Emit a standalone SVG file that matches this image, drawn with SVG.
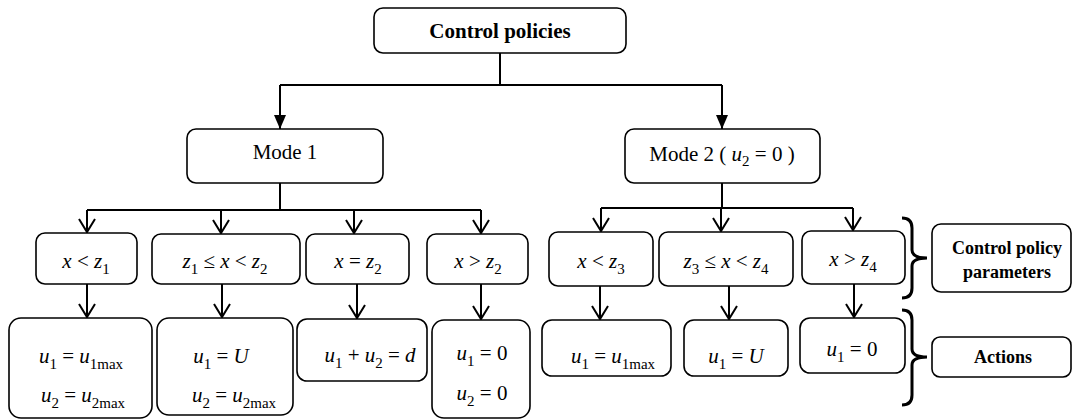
<svg xmlns="http://www.w3.org/2000/svg" width="1073" height="420" viewBox="0 0 1073 420">
<style>
.box{fill:#fff;stroke:#000;stroke-width:1.6}
.ln{fill:none;stroke:#000;stroke-width:2}
.br{fill:none;stroke:#000;stroke-width:3}
text{fill:#000;text-anchor:middle}
.t{font-size:21px}
.b{font-weight:bold;font-size:21px}
.bs{font-weight:bold;font-size:18px}
.m{font-size:21px}
.i{font-style:italic}
.s{font-size:15px}
</style>
<defs>
<marker id="fa" viewBox="0 -6 14 12" refX="14" refY="0" markerWidth="14" markerHeight="12" markerUnits="userSpaceOnUse" orient="auto"><path d="M0,-6 L14,0 L0,6 z" fill="#000"/></marker>
<marker id="va" viewBox="0 -9 15 18" refX="13" refY="0" markerWidth="15" markerHeight="18" markerUnits="userSpaceOnUse" orient="auto" overflow="visible"><path d="M0,-8 L13,0 L0,8" fill="none" stroke="#000" stroke-width="2"/></marker>
</defs>

<g id="connectors">
<path class="ln" d="M500,53 V85 M280,85 H722"/>
<path class="ln" d="M280,85 V129" marker-end="url(#fa)"/>
<path class="ln" d="M722,85 V129" marker-end="url(#fa)"/>
<path class="ln" d="M280,183 V210 M87,210 H481"/>
<path class="ln" d="M87,210 V232" marker-end="url(#va)"/>
<path class="ln" d="M221,210 V233" marker-end="url(#va)"/>
<path class="ln" d="M354,210 V233" marker-end="url(#va)"/>
<path class="ln" d="M481,210 V233" marker-end="url(#va)"/>
<path class="ln" d="M722,183 V208 M601,208 H853"/>
<path class="ln" d="M601,208 V231" marker-end="url(#va)"/>
<path class="ln" d="M721,208 V231" marker-end="url(#va)"/>
<path class="ln" d="M853,208 V230" marker-end="url(#va)"/>
<path class="ln" d="M87,284 V317" marker-end="url(#va)"/>
<path class="ln" d="M222,284 V317" marker-end="url(#va)"/>
<path class="ln" d="M357,284 V318" marker-end="url(#va)"/>
<path class="ln" d="M481,284 V319" marker-end="url(#va)"/>
<path class="ln" d="M600,286 V319" marker-end="url(#va)"/>
<path class="ln" d="M729,286 V319" marker-end="url(#va)"/>
<path class="ln" d="M854,284 V317" marker-end="url(#va)"/>
</g>

<g font-family="Liberation Serif, Times New Roman, serif">
<g id="control-policies">
<rect class="box" x="374" y="8" width="252" height="45" rx="9"/>
<text class="b" x="500" y="38">Control policies</text>
</g>

<g id="mode1">
<rect class="box" x="187" y="129" width="196" height="54" rx="9"/>
<text class="t" x="285" y="159">Mode 1</text>
</g>

<g id="mode2">
<rect class="box" x="625" y="129" width="195" height="54" rx="9"/>
<text class="t" x="722" y="161">Mode 2 ( <tspan class="i">u</tspan><tspan class="s" dy="5">2</tspan><tspan dy="-5"> = 0 )</tspan></text>
</g>

<g id="p1">
<rect class="box" x="36" y="233" width="101" height="51" rx="9"/>
<text class="m" x="86" y="268"><tspan class="i">x</tspan> &lt; <tspan class="i">z</tspan><tspan class="s" dy="6">1</tspan></text>
</g>
<g id="p2">
<rect class="box" x="152" y="234" width="148" height="50" rx="9"/>
<text class="m" x="225" y="268"><tspan class="i">z</tspan><tspan class="s" dy="6">1</tspan><tspan dy="-6"> ≤ </tspan><tspan class="i">x</tspan> &lt; <tspan class="i">z</tspan><tspan class="s" dy="6">2</tspan></text>
</g>
<g id="p3">
<rect class="box" x="306" y="234" width="103" height="50" rx="9"/>
<text class="m" x="358" y="268"><tspan class="i">x</tspan> = <tspan class="i">z</tspan><tspan class="s" dy="6">2</tspan></text>
</g>
<g id="p4">
<rect class="box" x="427" y="234" width="101" height="50" rx="9"/>
<text class="m" x="478" y="268"><tspan class="i">x</tspan> &gt; <tspan class="i">z</tspan><tspan class="s" dy="6">2</tspan></text>
</g>
<g id="p5">
<rect class="box" x="549" y="232" width="104" height="54" rx="9"/>
<text class="m" x="601" y="268"><tspan class="i">x</tspan> &lt; <tspan class="i">z</tspan><tspan class="s" dy="6">3</tspan></text>
</g>
<g id="p6">
<rect class="box" x="659" y="232" width="134" height="54" rx="9"/>
<text class="m" x="726" y="268"><tspan class="i">z</tspan><tspan class="s" dy="6">3</tspan><tspan dy="-6"> ≤ </tspan><tspan class="i">x</tspan> &lt; <tspan class="i">z</tspan><tspan class="s" dy="6">4</tspan></text>
</g>
<g id="p7">
<rect class="box" x="802" y="231" width="103" height="53" rx="9"/>
<text class="m" x="853" y="266"><tspan class="i">x</tspan> &gt; <tspan class="i">z</tspan><tspan class="s" dy="6">4</tspan></text>
</g>

<g id="a1">
<rect class="box" x="9" y="318" width="143" height="100" rx="12"/>
<text class="m" x="81" y="363"><tspan class="i">u</tspan><tspan class="s" dy="6">1</tspan><tspan dy="-6"> = </tspan><tspan class="i">u</tspan><tspan class="s" dy="6">1max</tspan></text>
<text class="m" x="83" y="402"><tspan class="i">u</tspan><tspan class="s" dy="6">2</tspan><tspan dy="-6"> = </tspan><tspan class="i">u</tspan><tspan class="s" dy="6">2max</tspan></text>
</g>
<g id="a2">
<rect class="box" x="157" y="318" width="136" height="97" rx="12"/>
<text class="m" x="221" y="363"><tspan class="i">u</tspan><tspan class="s" dy="6">1</tspan><tspan dy="-6"> = </tspan><tspan class="i">U</tspan></text>
<text class="m" x="234" y="402"><tspan class="i">u</tspan><tspan class="s" dy="6">2</tspan><tspan dy="-6"> = </tspan><tspan class="i">u</tspan><tspan class="s" dy="6">2max</tspan></text>
</g>
<g id="a3">
<rect class="box" x="297" y="319" width="130" height="62" rx="10"/>
<text class="m" x="370" y="362"><tspan class="i">u</tspan><tspan class="s" dy="6">1</tspan><tspan dy="-6"> + </tspan><tspan class="i">u</tspan><tspan class="s" dy="6">2</tspan><tspan dy="-6"> = </tspan><tspan class="i">d</tspan></text>
</g>
<g id="a4">
<rect class="box" x="432" y="320" width="98" height="98" rx="12"/>
<text class="m" x="482" y="360"><tspan class="i">u</tspan><tspan class="s" dy="6">1</tspan><tspan dy="-6"> = 0</tspan></text>
<text class="m" x="482" y="400"><tspan class="i">u</tspan><tspan class="s" dy="6">2</tspan><tspan dy="-6"> = 0</tspan></text>
</g>
<g id="b1">
<rect class="box" x="542" y="320" width="129" height="56" rx="10"/>
<text class="m" x="613" y="363"><tspan class="i">u</tspan><tspan class="s" dy="6">1</tspan><tspan dy="-6"> = </tspan><tspan class="i">u</tspan><tspan class="s" dy="6">1max</tspan></text>
</g>
<g id="b2">
<rect class="box" x="684" y="320" width="104" height="56" rx="10"/>
<text class="m" x="736" y="363"><tspan class="i">u</tspan><tspan class="s" dy="6">1</tspan><tspan dy="-6"> = </tspan><tspan class="i">U</tspan></text>
</g>
<g id="b3">
<rect class="box" x="800" y="318" width="105" height="55" rx="10"/>
<text class="m" x="852" y="356"><tspan class="i">u</tspan><tspan class="s" dy="6">1</tspan><tspan dy="-6"> = 0</tspan></text>
</g>

<g id="control-policy-parameters">
<rect class="box" x="932" y="224" width="139" height="68" rx="9"/>
<text class="bs" x="1007" y="254">Control policy</text>
<text class="bs" x="1007" y="278">parameters</text>
</g>
<g id="actions">
<rect class="box" x="932" y="337" width="139" height="40" rx="8"/>
<text class="bs" x="1003" y="363">Actions</text>
</g>
</g>

<g id="brace-parameters">
<path class="br" d="M902,218 Q912,218 912,228 L912,250 Q912,258 927,258 Q912,258 912,266 L912,288 Q912,298 902,298"/>
</g>
<g id="brace-actions">
<path class="br" d="M902,310 Q912,310 912,320 L912,349 Q912,357 927,357 Q912,357 912,365 L912,395 Q912,405 902,405"/>
</g>
</svg>
